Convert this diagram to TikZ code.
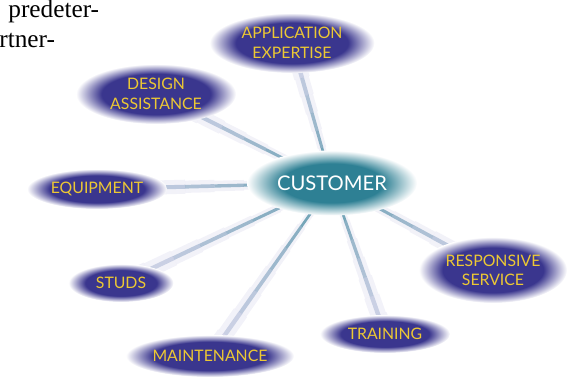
\documentclass[tikz,border=0pt]{standalone}
\usepackage{fontspec}
\setmainfont{Liberation Serif}
\newfontfamily\bubblefont{Lato}
\usetikzlibrary{shapes.geometric,calc,fadings,backgrounds}

\definecolor{bubbleblue}{RGB}{58,54,142}
\definecolor{bubbletext}{RGB}{236,200,52}
\definecolor{custteal}{RGB}{46,128,148}
\definecolor{linkblue}{RGB}{165,162,210}

\pgfdeclareradialshading{bubbleshade}{\pgfpoint{0bp}{0bp}}{color(0bp)=(bubbleblue); color(17bp)=(bubbleblue); color(25bp)=(white); color(50bp)=(white)}
\pgfdeclareradialshading{custshade}{\pgfpoint{0bp}{0bp}}{color(0bp)=(custteal); color(15bp)=(custteal); color(25bp)=(white); color(50bp)=(white)}
\pgfdeclareradialshading{halomask}{\pgfpoint{0bp}{0bp}}{color(0bp)=(pgftransparent!0); color(13bp)=(pgftransparent!0); color(25bp)=(pgftransparent!100); color(50bp)=(pgftransparent!100)}
\pgfdeclarefading{halofade}{\pgfuseshading{halomask}}

\tikzset{
    bubble/.style={ellipse, shading=bubbleshade, text=bubbletext, inner sep=0pt,
        align=center, font=\bubblefont\fontsize{9}{11}\selectfont},
    custbubble/.style={ellipse, shading=custshade, text=white, inner sep=0pt,
        font=\bubblefont\fontsize{11.5}{13}\selectfont},
    linkglow/.style={color=linkblue, opacity=0.14}
}

\begin{document}
\begin{tikzpicture}
    \useasboundingbox (0,0) rectangle (11.44,7.62);
    % text of the page beside the picture
    \node[anchor=base west, inner sep=0pt, font=\fontsize{14.4}{17}\selectfont] (textone) at (0.16,7.27) {predeter-};
    \node[anchor=base west, inner sep=0pt, font=\fontsize{14.4}{17}\selectfont] (texttwo) at (-0.02,6.66) {rtner-};
    % bubbles
    \node[custbubble, minimum width=3.4cm, minimum height=1.3cm] (cust) at (6.64,3.96) {CUSTOMER};
    \node[bubble, minimum width=3.3cm, minimum height=1.2cm] (app) at (5.84,6.76) {APPLICATION\\EXPERTISE};
    \node[bubble, minimum width=3.2cm, minimum height=1.2cm] (design) at (3.12,5.74) {DESIGN\\ASSISTANCE};
    \node[bubble, minimum width=2.8cm, minimum height=0.8cm] (equip) at (1.94,3.84) {EQUIPMENT};
    \node[bubble, minimum width=2.1cm, minimum height=0.76cm] (studs) at (2.42,1.96) {STUDS};
    \node[bubble, minimum width=3.36cm, minimum height=0.84cm] (maint) at (4.20,0.50) {MAINTENANCE};
    \node[bubble, minimum width=2.6cm, minimum height=0.76cm] (train) at (7.70,0.94) {TRAINING};
    \node[bubble, minimum width=2.96cm, minimum height=1.32cm] (resp) at (9.86,2.22) {RESPONSIVE\\SERVICE};
    % spokes behind the bubbles, teal and thin at the centre, soft lavender outside
    \begin{pgfonlayer}{background}
        \fill[white, opacity=0.35, path fading=halofade] (cust.center) ellipse (5cm and 2.9cm);
        \foreach \n in {app,design,equip,studs,maint,train,resp} {
            \foreach \i in {0,...,7} {
                \pgfmathsetmacro\ta{\i/8}
                \pgfmathsetmacro\tb{(\i+1)/8}
                \pgfmathtruncatemacro\mix{100-13*\i}
                \pgfmathsetmacro\gw{3+1*\i}
                \pgfmathsetmacro\cw{1.3+0.2*\i}
                \pgfmathsetmacro\op{0.75-0.06*\i}
                \draw[linkglow, line width=\gw pt] ($(cust.center)!\ta!(\n.center)$) -- ($(cust.center)!\tb!(\n.center)$);
                \draw[color=custteal!\mix!linkblue, opacity=\op, line width=\cw pt] ($(cust.center)!\ta!(\n.center)$) -- ($(cust.center)!\tb!(\n.center)$);
            }
        }
    \end{pgfonlayer}
\end{tikzpicture}
\end{document}
